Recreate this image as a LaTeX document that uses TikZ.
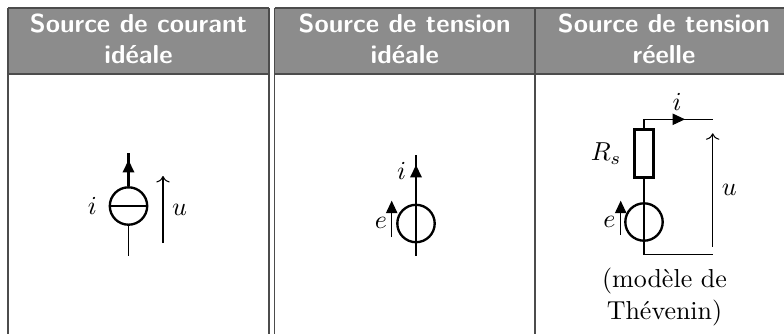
\documentclass[tikz,border=0pt]{standalone}
\usepackage{amsmath}
\usepackage{amssymb}
\usetikzlibrary{arrows.meta,positioning}
\definecolor{headgray}{gray}{0.55}

\begin{document}
\begin{tikzpicture}[x=0.385pt,y=-0.385pt,
	rule/.style={draw=black!70,line width=0.5pt},
	title/.style={text=white,font=\sffamily\bfseries,align=center},
	wire/.style={line width=0.4pt},
	comp/.style={line width=0.9pt},
	gen/.style={circle,draw,comp,minimum size=14.4pt,inner sep=0pt},
	res/.style={rectangle,draw,comp,minimum width=7.3pt,minimum height=18.6pt,inner sep=0pt},
	cur/.style={-{Triangle[length=4.8pt,width=4.4pt]}},
	volt/.style={->,wire}]
	\useasboundingbox (0,0) rectangle (784,334);

	% table head
	\fill[headgray] (8,8) rectangle (269,74);
	\fill[headgray] (274.5,8) rectangle (784,74);
	\draw[rule] (8,8) -- (269,8) (274.5,8) -- (784,8);
	\draw[rule] (8,74) -- (269,74) (274.5,74) -- (784,74);
	\draw[rule] (8,8) -- (8,334);
	\draw[rule] (269,8) -- (269,334);
	\draw[rule] (274.5,8) -- (274.5,334);
	\draw[rule] (535,8) -- (535,334);

	\node[title] (head_1) at (138.5,39) {Source de courant\\idéale};
	\node[title] (head_2) at (404.75,39) {Source de tension\\idéale};
	\node[title] (head_3) at (664,39) {Source de tension\\réelle};

	% ideal current source
	\node[gen] (cs) at (128.5,206) {};
	\coordinate (cs_top) at (128.5,153);
	\coordinate (cs_tip) at (128.5,160);
	\coordinate (cs_bot) at (128.5,256);
	\coordinate (cs_u0) at (163,243);
	\coordinate (cs_u1) at (163,176);
	\node (cs_i) [left=1pt of cs] {$i$};

	\draw[comp] (cs.west) -- (cs.east);
	\draw[comp] (cs.north) -- (cs_top);
	\draw[comp,cur] (cs.north) -- (cs_tip);
	\draw[wire] (cs.south) -- (cs_bot);
	\draw[volt] (cs_u0) -- (cs_u1) node[midway,right] {$u$};

	% ideal voltage source
	\node[gen] (vs) at (416,223.5) {};
	\coordinate (vs_top) at (416,155);
	\coordinate (vs_mid) at (416,190);
	\coordinate (vs_tip) at (416,165);
	\coordinate (vs_bot) at (416,256);
	\coordinate (vs_e0) at (391.7,237);
	\coordinate (vs_e1) at (391.7,200.7);

	\draw[comp] (vs.north) -- (vs.south);
	\draw[wire] (vs.north) -- (vs_top);
	\draw[comp] (vs_mid) -- (vs_top);
	\draw[comp,cur] (vs_mid) -- (vs_tip) node[pos=0.75,left] {$i$};
	\draw[wire] (vs.south) -- (vs_bot);
	\draw[wire,cur] (vs_e0) -- (vs_e1);
	\node (vs_e) at (381,223) {$e$};

	% real voltage source
	\node[res] (rs) at (644,153.5) {};
	\node[gen] (vt) at (644,222) {};
	\node (rs_l) [left=1pt of rs] {$R_s$};
	\coordinate (t_tl) at (644,119.3);
	\coordinate (t_tr) at (712.7,119.3);
	\coordinate (t_tip) at (685,119.3);
	\coordinate (t_bl) at (644,254.3);
	\coordinate (t_br) at (712.7,254.3);
	\coordinate (t_u0) at (712.7,246.7);
	\coordinate (t_u1) at (712.7,133.3);
	\coordinate (t_e0) at (620.7,235);
	\coordinate (t_e1) at (620.7,200.7);

	\draw[comp] (vt.north) -- (vt.south);
	\draw[wire] (rs.north) -- (t_tl) -- (t_tr);
	\draw[wire,cur] (t_tl) -- (t_tip);
	\draw[wire] (rs.south) -- (vt.north);
	\draw[wire] (vt.south) -- (t_bl) -- (t_br);
	\draw[volt] (t_u0) -- (t_u1) node[midway,right] {$u$};
	\draw[wire,cur] (t_e0) -- (t_e1);
	\node (t_e) at (609.3,221.7) {$e$};
	\node (t_i) at (677,102) {$i$};
	\node[align=center] (thev) at (664.5,297) {(modèle de\\Thévenin)};

\end{tikzpicture}
\end{document}
